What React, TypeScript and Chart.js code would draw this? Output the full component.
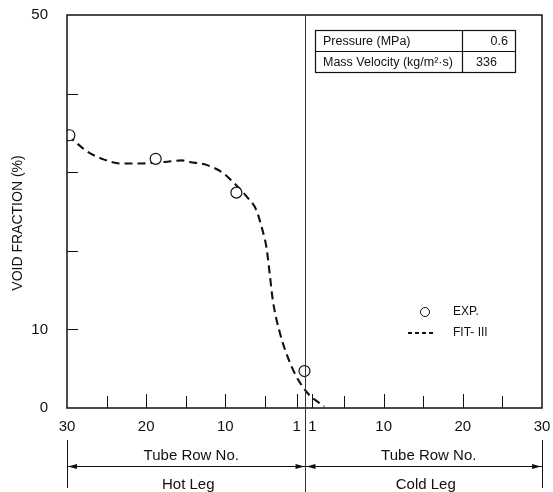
import React, { useEffect, useRef } from 'react';
import { Chart, registerables } from 'chart.js';
Chart.register(...registerables);

// Horizontal position: hot-leg rows are plotted as -row, cold-leg rows as +row
const yTickValues = [0, 10, 20, 30, 40, 50];
const yLabeledValues = [0, 10, 50];
const xTickPositions = [-30, -25, -20, -15, -10, -5, -1, 1, 5, 10, 15, 20, 25, 30];
const xLabeledPositions = [-30, -20, -10, -1, 1, 10, 20, 30];

const expX = [-29.7, -18.8, -8.6, 0];
const expY = [34.7, 31.7, 27.4, 4.7];

const fitX = [-29.9, -29.0, -27.4, -25.3, -23.1, -21.1, -17.7, -15.5, -14.5, -12.3, -10.3, -9.1, -7.3, -6.1, -5.3, -4.8, -4.4, -4.0, -3.2, -1.6, 0.3, 2.5];
const fitY = [34.7, 33.9, 32.6, 31.6, 31.1, 31.1, 31.3, 31.5, 31.3, 30.9, 29.9, 28.8, 26.9, 25.2, 22.6, 20.4, 17.1, 13.7, 9.9, 5.2, 2.0, 0.2];

const tableLabels = ['Pressure (MPa)', 'Mass Velocity (kg/m²·s)'];
const tableValues = ['0.6', '336'];
const legendLabels = ['EXP.', 'FIT- III'];
const yTitle = 'VOID FRACTION (%)';
const xSubTitle = 'Tube Row No.';
const legNames = ['Hot Leg', 'Cold Leg'];

const FONT = '"Liberation Sans", Arial, Helvetica, sans-serif';

const decorPlugin = {
  id: 'decor',
  afterDraw(chart: any) {
    const ctx = chart.ctx as CanvasRenderingContext2D;
    const xs = chart.scales.x;
    const ys = chart.scales.y;
    const { left, right, top, bottom } = chart.chartArea;
    const H = chart.height;
    ctx.save();
    ctx.strokeStyle = '#111';
    ctx.fillStyle = '#111';
    ctx.setLineDash([]);

    // frame
    ctx.lineWidth = 1.5;
    ctx.strokeRect(left, top, right - left, bottom - top);

    // inward y ticks
    ctx.lineWidth = 1;
    yTickValues.forEach((v) => {
      if (v === 0 || v === 50) return;
      const y = Math.round(ys.getPixelForValue(v)) + 0.5;
      ctx.beginPath();
      ctx.moveTo(left, y);
      ctx.lineTo(left + 11, y);
      ctx.stroke();
    });
    // inward x ticks
    xTickPositions.forEach((v) => {
      if (v === -30 || v === 30) return;
      const x = Math.round(xs.getPixelForValue(v)) + 0.5;
      const len = xLabeledPositions.includes(v) ? 14 : 12;
      ctx.beginPath();
      ctx.moveTo(x, bottom);
      ctx.lineTo(x, bottom - len);
      ctx.stroke();
    });

    // centre divider line
    const cx = Math.round(xs.getPixelForValue(0)) + 0.5;
    ctx.strokeStyle = '#333';
    ctx.beginPath();
    ctx.moveTo(cx, top);
    ctx.lineTo(cx, H);
    ctx.stroke();
    ctx.strokeStyle = '#111';

    // bracket ends
    [left, right].forEach((x) => {
      ctx.beginPath();
      ctx.moveTo(x + 0.5, bottom + 32);
      ctx.lineTo(x + 0.5, bottom + 80);
      ctx.stroke();
    });

    // arrows
    const ay = bottom + 58.5;
    const arrow = (x: number, dir: number) => {
      ctx.beginPath();
      ctx.moveTo(x, ay);
      ctx.lineTo(x - dir * 9, ay - 2.5);
      ctx.lineTo(x - dir * 9, ay + 2.5);
      ctx.closePath();
      ctx.fill();
    };
    ctx.beginPath();
    ctx.moveTo(left, ay);
    ctx.lineTo(right, ay);
    ctx.stroke();
    arrow(left + 1, -1);
    arrow(cx - 1, 1);
    arrow(cx + 1, -1);
    arrow(right - 1, 1);

    ctx.font = `15px ${FONT}`;
    ctx.textAlign = 'center';
    ctx.textBaseline = 'middle';
    const hotC = (left + cx) / 2 + 5;
    const coldC = (cx + right) / 2 + 5;
    ctx.fillText(xSubTitle, hotC, bottom + 48);
    ctx.fillText(xSubTitle, coldC, bottom + 48);
    ctx.fillText(legNames[0], hotC - 3, bottom + 77);
    ctx.fillText(legNames[1], coldC - 3, bottom + 77);

    // y title
    ctx.save();
    ctx.translate(18, 223);
    ctx.rotate(-Math.PI / 2);
    ctx.font = `14px ${FONT}`;
    ctx.fillText(yTitle, 0, 0);
    ctx.restore();

    // table
    const tL = 315, tT = 30, tD = 462, tR = 515, rh = 21;
    ctx.fillStyle = '#fff';
    ctx.fillRect(tL, tT, tR - tL, rh * 2);
    ctx.fillStyle = '#111';
    ctx.lineWidth = 1.2;
    ctx.strokeRect(tL + 0.5, tT + 0.5, tR - tL, rh * 2);
    ctx.beginPath();
    ctx.moveTo(tL, tT + rh + 0.5);
    ctx.lineTo(tR, tT + rh + 0.5);
    ctx.moveTo(tD + 0.5, tT);
    ctx.lineTo(tD + 0.5, tT + rh * 2);
    ctx.stroke();
    ctx.font = `12.5px ${FONT}`;
    ctx.textAlign = 'left';
    ctx.fillText(tableLabels[0], tL + 8, tT + rh / 2 + 1);
    ctx.fillText(tableLabels[1], tL + 8, tT + rh * 1.5 + 1);
    ctx.textAlign = 'right';
    ctx.fillText(tableValues[0], tR - 7, tT + rh / 2 + 1);
    ctx.textAlign = 'left';
    ctx.fillText(tableValues[1], tD + 14, tT + rh * 1.5 + 1);

    // legend
    ctx.lineWidth = 1;
    ctx.beginPath();
    ctx.arc(425, 312, 4.5, 0, Math.PI * 2);
    ctx.stroke();
    ctx.lineWidth = 1.8;
    ctx.setLineDash([4, 3]);
    ctx.beginPath();
    ctx.moveTo(408, 333);
    ctx.lineTo(436, 333);
    ctx.stroke();
    ctx.setLineDash([]);
    ctx.font = `12px ${FONT}`;
    ctx.fillText(legendLabels[0], 453, 312);
    ctx.fillText(legendLabels[1], 453, 333);

    ctx.restore();
  },
};

export default function App() {
  const ref = useRef<HTMLCanvasElement | null>(null);
  useEffect(() => {
    if (!ref.current) return;
    const chart = new Chart(ref.current, {
      type: 'scatter',
      data: {
        datasets: [
          {
            label: 'EXP.',
            data: expX.map((x, i) => ({ x, y: expY[i] })),
            pointStyle: 'circle',
            pointRadius: 5.5,
            pointBorderWidth: 1.2,
            pointBorderColor: '#111',
            pointBackgroundColor: '#fff',
            showLine: false,
          },
          {
            label: 'FIT- III',
            data: fitX.map((x, i) => ({ x, y: fitY[i] })),
            showLine: true,
            borderColor: '#111',
            borderWidth: 2.1,
            borderDash: [8, 5],
            pointRadius: 0,
            cubicInterpolationMode: 'monotone',
            fill: false,
          },
        ],
      },
      options: {
        animation: false,
        responsive: false,
        maintainAspectRatio: false,
        layout: { padding: { left: 0, right: 11, top: 15, bottom: 0 } },
        plugins: { legend: { display: false }, tooltip: { enabled: false } },
        scales: {
          x: {
            type: 'linear',
            min: -30,
            max: 30,
            grid: { display: false },
            border: { display: false },
            afterBuildTicks: (scale: any) => {
              scale.ticks = xLabeledPositions.map((v) => ({ value: v }));
            },
            afterFit: (scale: any) => {
              scale.height = 84;
              scale.paddingLeft = 0;
              scale.paddingRight = 0;
            },
            ticks: {
              autoSkip: false,
              maxRotation: 0,
              padding: 2,
              color: '#111',
              font: { family: FONT, size: 15 },
              callback: (v: any) => String(Math.abs(Number(v))),
            },
          },
          y: {
            type: 'linear',
            min: 0,
            max: 50,
            grid: { display: false },
            border: { display: false },
            afterBuildTicks: (scale: any) => {
              scale.ticks = yTickValues.map((v) => ({ value: v }));
            },
            afterFit: (scale: any) => {
              scale.width = 67;
              scale.paddingTop = 0;
              scale.paddingBottom = 0;
            },
            ticks: {
              autoSkip: false,
              padding: 11,
              color: '#111',
              font: { family: FONT, size: 15 },
              callback: (v: any) => (yLabeledValues.includes(Number(v)) ? String(v) : ''),
            },
          },
        },
      },
      plugins: [decorPlugin],
    } as any);
    return () => chart.destroy();
  }, []);
  return (
    <div style={{ position: 'fixed', left: 0, top: 0, width: 553, height: 492, background: '#fff' }}>
      <canvas ref={ref} width={553} height={492} style={{ display: 'block', width: 553, height: 492 }} />
    </div>
  );
}
